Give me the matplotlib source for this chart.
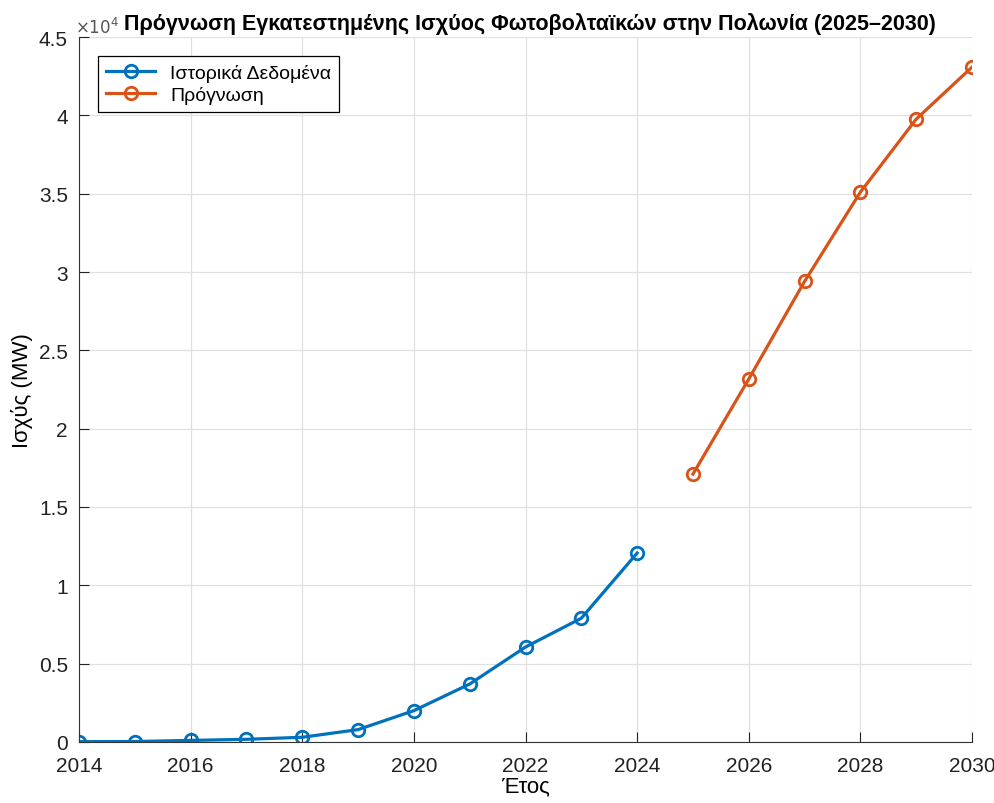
import matplotlib
matplotlib.use("Agg")
import matplotlib.pyplot as plt
from matplotlib.ticker import FuncFormatter

# data (MW)
hist_years = [2014, 2015, 2016, 2017, 2018, 2019, 2020, 2021, 2022, 2023, 2024]
hist_mw = [20, 30, 100, 170, 300, 790, 2000, 3700, 6060, 7900, 12060]
fc_years = [2025, 2026, 2027, 2028, 2029, 2030]
fc_mw = [17100, 23170, 29400, 35100, 39760, 43080]

plt.rcParams["font.family"] = ["Liberation Sans", "DejaVu Sans"]

fig = plt.figure(figsize=(9.95, 8.04), dpi=100)
ax = fig.add_axes([0.0794, 0.0759, 0.8975, 0.8768])

ax.plot(hist_years, hist_mw, "-o", color="#0072BD", lw=2.3,
        ms=9, mfc="none", mew=2, label="Ιστορικά Δεδομένα")
ax.plot(fc_years, fc_mw, "-o", color="#D95319", lw=2.3,
        ms=9, mfc="none", mew=2, label="Πρόγνωση")

ax.set_xlim(2014, 2030)
ax.set_ylim(0, 45000)
ax.set_xticks(range(2014, 2031, 2))
ax.set_yticks([i * 5000 for i in range(10)])

# MATLAB-style exponent label
ax.yaxis.set_major_formatter(FuncFormatter(lambda v, p: f"{v / 1e4:g}"))
ax.text(-0.004, 1.002, r"$\times10^4$", transform=ax.transAxes, fontsize=12,
        color="#555555", ha="left", va="bottom")

ax.grid(True, color="#e0e0e0", lw=0.9)
ax.set_axisbelow(True)
for s in ["top", "right"]:
    ax.spines[s].set_visible(False)
for s in ["left", "bottom"]:
    ax.spines[s].set_color("#333333")
ax.tick_params(direction="in", labelsize=15, colors="#222222", length=7)
ax.tick_params(axis="x", pad=10)
ax.tick_params(axis="y", pad=8)

ax.set_title("Πρόγνωση Εγκατεστημένης Ισχύος Φωτοβολταϊκών στην Πολωνία (2025–2030)",
             fontsize=15.5, fontweight="bold", pad=6, x=0.505)
ax.set_xlabel("Έτος", fontsize=16, labelpad=0)
ax.set_ylabel("Ισχύς (MW)", fontsize=16, labelpad=4)

leg = ax.legend(loc="upper left", fontsize=14, fancybox=False,
                edgecolor="black", framealpha=1, borderaxespad=1.0,
                handlelength=2.5, borderpad=0.4, labelspacing=0.2)
leg.get_frame().set_linewidth(0.9)

fig.savefig("out.png", dpi=100)
